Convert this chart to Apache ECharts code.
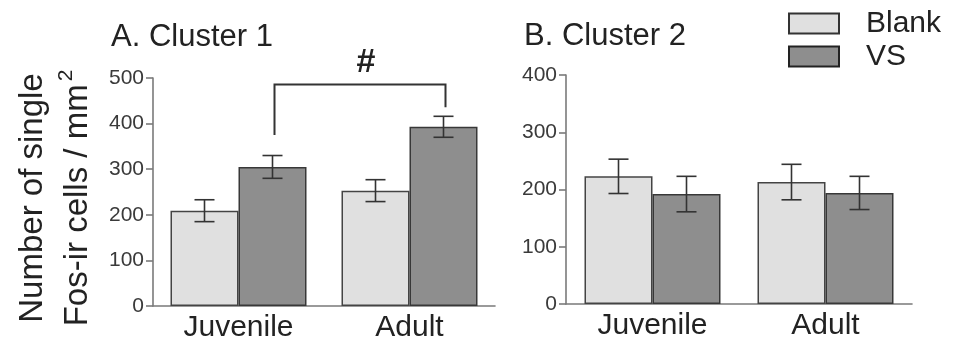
<!DOCTYPE html>
<html>
<head>
<meta charset="utf-8">
<script src="https://cdn.jsdelivr.net/npm/echarts@6/dist/echarts.min.js"></script>
<style>
html,body{margin:0;padding:0;background:#fff;}
#chart{width:955px;height:347px;}
</style>
</head>
<body>
<div id="chart"></div>
<script>
// ---- data ----
var categories = ['Juvenile', 'Adult'];
var seriesNames = ['Blank', 'VS'];
// Cluster 1
var c1Blank = [209, 253];
var c1BlankErr = [24, 24];
var c1VS = [305, 393];
var c1VSErr = [25, 23];
// Cluster 2
var c2Blank = [223, 213];
var c2BlankErr = [30, 31];
var c2VS = [192, 194];
var c2VSErr = [31, 29];
// significance bracket (Cluster 1, Juvenile VS vs Adult VS): top, left end, right end
var bracketA = [486, 375, 436];
var bracketLabel = '#';
// axis ticks
var yTicksA = [0, 100, 200, 300, 400, 500];
var yTicksB = [0, 100, 200, 300, 400];
var titles = ['A. Cluster 1', 'B. Cluster 2'];

// ---- styling ----
var FONT = 'Liberation Sans, Arial, Helvetica, sans-serif';
var BAR_W = 68;
var blankStyle = { color: '#e0e0e0', borderColor: '#444', borderWidth: 1.5 };
var vsStyle = { color: '#8e8e8e', borderColor: '#383838', borderWidth: 1.5 };
var axisColor = '#7a7a7a';

function errSeries(gridIdx, vals, errs, offset) {
  return {
    type: 'custom',
    xAxisIndex: gridIdx, yAxisIndex: gridIdx,
    z: 5,
    data: vals.map(function (v, i) { return [i, v, errs[i]]; }),
    renderItem: function (params, api) {
      var c = api.value(0), m = api.value(1), e = api.value(2);
      var top = api.coord([c, m + e]);
      var bot = api.coord([c, m - e]);
      var x = top[0] + offset;
      var st = { stroke: '#333', lineWidth: 1.6 };
      return {
        type: 'group',
        children: [
          { type: 'line', shape: { x1: x, y1: top[1], x2: x, y2: bot[1] }, style: st },
          { type: 'line', shape: { x1: x - 10, y1: top[1], x2: x + 10, y2: top[1] }, style: st },
          { type: 'line', shape: { x1: x - 10, y1: bot[1], x2: x + 10, y2: bot[1] }, style: st }
        ]
      };
    }
  };
}

function xAxisCfg(gridIdx) {
  return {
    type: 'category', gridIndex: gridIdx, data: categories,
    axisLine: { lineStyle: { color: axisColor, width: 1.6 } },
    axisTick: { show: false },
    axisLabel: { fontFamily: FONT, fontSize: 30, color: '#222', margin: 7 }
  };
}
function yAxisCfg(gridIdx, ticks) {
  return {
    type: 'value', gridIndex: gridIdx, min: ticks[0], max: ticks[ticks.length - 1], interval: ticks[1] - ticks[0],
    axisLine: { show: true, lineStyle: { color: axisColor, width: 1.6 } },
    axisTick: { show: true, length: 7, lineStyle: { color: axisColor, width: 1.6 } },
    splitLine: { show: false },
    axisLabel: { fontFamily: FONT, fontSize: 21, color: '#3a3a3a', margin: 9 }
  };
}

var chart = echarts.init(document.getElementById('chart'), null, { renderer: 'canvas' });
var option = {
  backgroundColor: '#fff',
  animation: false,
  title: [
    { text: titles[0], left: 111, top: 22, padding: 0, textStyle: { fontFamily: FONT, fontSize: 31, fontWeight: 'normal', color: '#222' } },
    { text: titles[1], left: 524, top: 21, padding: 0, textStyle: { fontFamily: FONT, fontSize: 31, fontWeight: 'normal', color: '#222' } }
  ],
  legend: {
    orient: 'vertical', left: 788, top: 8, padding: 0,
    itemWidth: 50, itemHeight: 20, itemGap: 2,
    textStyle: { fontFamily: FONT, fontSize: 30, lineHeight: 31, color: '#222', padding: [0, 0, 0, 22] },
    data: [
      { name: seriesNames[0], icon: 'rect', itemStyle: { color: '#e0e0e0', borderColor: '#333', borderWidth: 2 } },
      { name: seriesNames[1], icon: 'rect', itemStyle: { color: '#8e8e8e', borderColor: '#222', borderWidth: 2 } }
    ]
  },
  grid: [
    { left: 153, top: 78, width: 342, height: 228 },
    { left: 566, top: 75, width: 346, height: 229 }
  ],
  xAxis: [xAxisCfg(0), xAxisCfg(1)],
  yAxis: [yAxisCfg(0, yTicksA), yAxisCfg(1, yTicksB)],
  graphic: [{
    type: 'text', x: 55, y: 198, rotation: Math.PI / 2,
    style: {
      text: '{a|Number of single}\n{a|Fos-ir cells / mm}{s|2}',
      align: 'center', verticalAlign: 'middle',
      rich: {
        a: { fontFamily: FONT, fontSize: 33, lineHeight: 45, fill: '#222' },
        s: { fontFamily: FONT, fontSize: 21, lineHeight: 45, fill: '#222', padding: [0, 0, 22, 3] }
      }
    }
  }],
  series: [
    { name: seriesNames[0], type: 'bar', xAxisIndex: 0, yAxisIndex: 0, data: c1Blank, barWidth: BAR_W, barGap: '0%', itemStyle: blankStyle },
    { name: seriesNames[1], type: 'bar', xAxisIndex: 0, yAxisIndex: 0, data: c1VS, barWidth: BAR_W, barGap: '0%', itemStyle: vsStyle },
    { name: seriesNames[0], type: 'bar', xAxisIndex: 1, yAxisIndex: 1, data: c2Blank, barWidth: BAR_W, barGap: '0%', itemStyle: blankStyle },
    { name: seriesNames[1], type: 'bar', xAxisIndex: 1, yAxisIndex: 1, data: c2VS, barWidth: BAR_W, barGap: '0%', itemStyle: vsStyle },
    errSeries(0, c1Blank, c1BlankErr, -BAR_W / 2),
    errSeries(0, c1VS, c1VSErr, BAR_W / 2),
    errSeries(1, c2Blank, c2BlankErr, -BAR_W / 2),
    errSeries(1, c2VS, c2VSErr, BAR_W / 2),
    {
      type: 'custom', xAxisIndex: 0, yAxisIndex: 0, z: 6, clip: false,
      data: [[0, 1, bracketA[0], bracketA[1], bracketA[2]]],
      renderItem: function (params, api) {
        var top1 = api.coord([api.value(0), api.value(2)]);
        var top2 = api.coord([api.value(1), api.value(2)]);
        var end1 = api.coord([api.value(0), api.value(3)]);
        var end2 = api.coord([api.value(1), api.value(4)]);
        var x1 = top1[0] + BAR_W / 2 + 2, x2 = top2[0] + BAR_W / 2 + 2;
        var st = { stroke: '#333', lineWidth: 2 };
        return {
          type: 'group',
          children: [
            { type: 'polyline', shape: { points: [[x1, end1[1]], [x1, top1[1]], [x2, top2[1]], [x2, end2[1]]] }, style: Object.assign({ fill: null }, st) },
            { type: 'text', x: (x1 + x2) / 2 + 6, y: top1[1] - 22, style: { text: bracketLabel, fontFamily: FONT, fontSize: 34, fontWeight: 'bold', fill: '#222', align: 'center', verticalAlign: 'middle' } }
          ]
        };
      }
    }
  ]
};
chart.setOption(option);
</script>
</body>
</html>
